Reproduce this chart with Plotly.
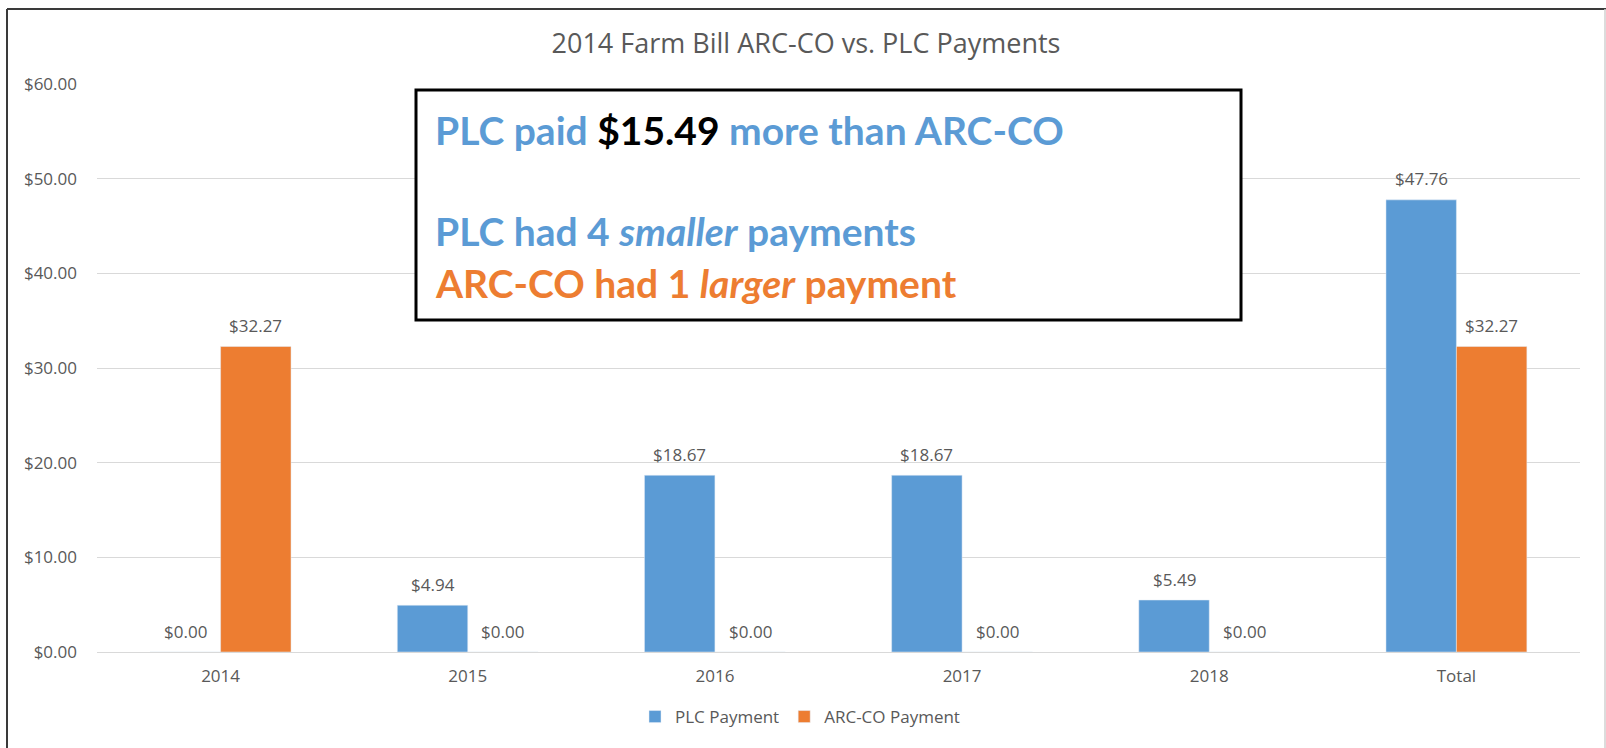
import plotly.graph_objects as go

categories = ["2014", "2015", "2016", "2017", "2018", "Total"]
plc_payment = [0.00, 4.94, 18.67, 18.67, 5.49, 47.76]
arcco_payment = [32.27, 0.00, 0.00, 0.00, 0.00, 32.27]
y_ticks = [0, 10, 20, 30, 40, 50, 60]
y_tick_labels = ["$%.2f" % v for v in y_ticks]

BLUE = "#5B9BD5"
ORANGE = "#ED7D31"
GRAY = "#595959"
SMALL = 17
BARGAP = 0.43

W, H = 1606, 748
L, R, T, B = 97, 1580, 84, 652


def px(x):
    return (x - L) / (R - L)


def py(y):
    return (B - y) / (B - T)


fig = go.Figure()
fig.add_trace(go.Bar(name="PLC Payment", x=categories, y=plc_payment, marker_color=BLUE))
fig.add_trace(go.Bar(name="ARC-CO Payment", x=categories, y=arcco_payment, marker_color=ORANGE))

# data labels, positioned on each bar of the group (x given as category index)
bar_w = (R - L) / len(categories) * (1 - BARGAP) / 2
annotations = []
for series, sign in ((plc_payment, -1), (arcco_payment, 1)):
    for idx, val in enumerate(series):
        annotations.append(dict(
            x=idx, y=val, xref="x", yref="y", text="$%.2f" % val, showarrow=False,
            xshift=sign * bar_w / 2, yshift=21, yanchor="middle", xanchor="center",
            font=dict(size=SMALL, color=GRAY, family="Open Sans")))

shapes = [
    # text box
    dict(type="rect", xref="paper", yref="paper", x0=px(416), x1=px(1241), y0=py(320), y1=py(90),
         line=dict(color="black", width=3), fillcolor="white", layer="above"),
    # outer frame
    dict(type="line", xref="paper", yref="paper", x0=px(7), x1=px(7), y0=py(9), y1=py(760),
         line=dict(color="#3a3a3a", width=2)),
    dict(type="line", xref="paper", yref="paper", x0=px(7), x1=px(1610), y0=py(9), y1=py(9),
         line=dict(color="#3a3a3a", width=2)),
    dict(type="line", xref="paper", yref="paper", x0=px(1605), x1=px(1605), y0=py(9), y1=py(760),
         line=dict(color="#d0d0d0", width=1.5)),
]

box_font = "Lato"
BOX_SIZE = 39
annotations += [
    dict(xref="paper", yref="paper", x=px(433), y=py(130), xanchor="left", yanchor="middle",
         showarrow=False, align="left",
         text="<b>PLC paid <span style='color:black'>$15.49</span> more than ARC-CO</b>",
         font=dict(size=BOX_SIZE, color=BLUE, family=box_font)),
    dict(xref="paper", yref="paper", x=px(433), y=py(231), xanchor="left", yanchor="middle",
         showarrow=False, align="left",
         text="<b>PLC had 4 <i>smaller</i> payments</b>",
         font=dict(size=BOX_SIZE, color=BLUE, family=box_font)),
    dict(xref="paper", yref="paper", x=px(433), y=py(283), xanchor="left", yanchor="middle",
         showarrow=False, align="left",
         text="<b>ARC-CO had 1 <i>larger</i> payment</b>",
         font=dict(size=BOX_SIZE, color=ORANGE, family=box_font)),
]

fig.update_layout(
    width=W, height=H,
    margin=dict(l=L, r=W - R, t=T, b=H - B),
    paper_bgcolor="white", plot_bgcolor="white",
    barmode="group", bargap=BARGAP, bargroupgap=0,
    title=dict(text="2014 Farm Bill ARC-CO vs. PLC Payments", x=px(806), xanchor="center",
               xref="paper", y=1 - 44 / H, yanchor="middle",
               font=dict(size=27, color=GRAY, family="Open Sans")),
    font=dict(family="Open Sans", color=GRAY, size=SMALL),
    legend=dict(orientation="h", x=px(800), xanchor="center", y=py(717), yanchor="middle",
                font=dict(size=SMALL, color=GRAY), itemwidth=30, traceorder="normal"),
    xaxis=dict(type="category", range=[-0.5, len(categories) - 0.5], showgrid=False,
               showline=True, linecolor="#D9D9D9", linewidth=1,
               ticks="", ticklabelstandoff=9, tickfont=dict(size=SMALL, color=GRAY)),
    yaxis=dict(range=[0, 60], tickvals=y_ticks, ticktext=y_tick_labels, showgrid=True,
               gridcolor="#D9D9D9", gridwidth=1, zeroline=False, showline=False,
               ticks="", ticklabelstandoff=19, tickfont=dict(size=SMALL, color=GRAY)),
    shapes=shapes,
    annotations=annotations,
)

fig.write_html("out.html", config={"displayModeBar": False},
               post_script="document.body.style.margin='0';")
